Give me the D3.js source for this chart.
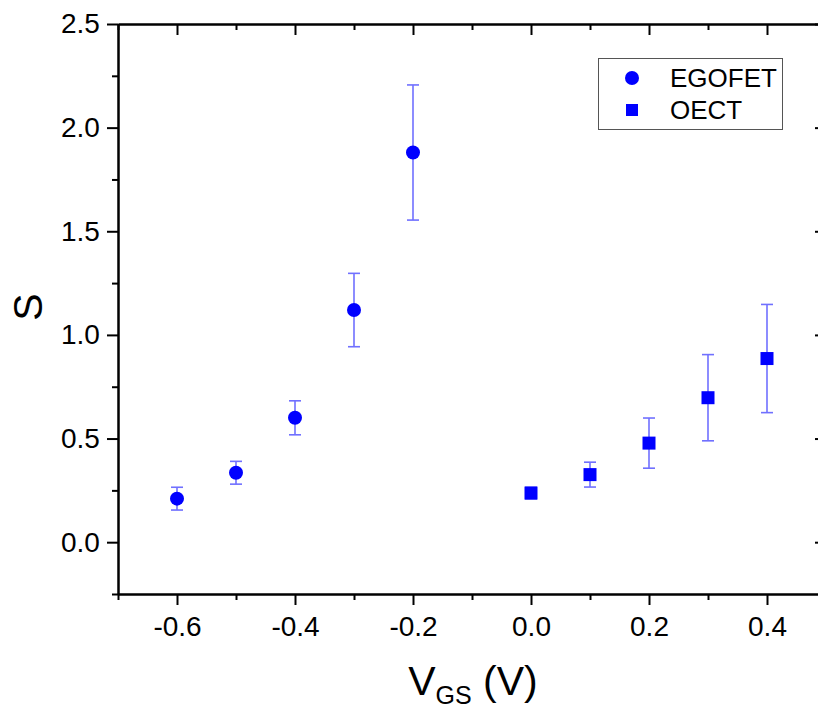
<!DOCTYPE html>
<html><head><meta charset="utf-8">
<script src="https://cdn.jsdelivr.net/npm/d3@7"></script>
<style>body{margin:0;background:#fff}svg{display:block}text{font-family:"Liberation Sans",Arial,sans-serif}</style>
</head><body><svg id="c" width="818" height="713"></svg>
<script>
const egofetX = [-0.6, -0.5, -0.4, -0.3, -0.2];
const egofetY = [0.21, 0.335, 0.60, 1.12, 1.88];
const egofetErr = [0.055, 0.055, 0.082, 0.177, 0.326];
const oectX = [0.0, 0.1, 0.2, 0.3, 0.4];
const oectY = [0.237, 0.326, 0.478, 0.697, 0.886];
const oectErr = [0.028, 0.06, 0.121, 0.208, 0.261];
const xMajorTicks = [-0.6, -0.4, -0.2, 0.0, 0.2, 0.4];
const xMinorTicks = [-0.7, -0.5, -0.3, -0.1, 0.1, 0.3, 0.5];
const yMajorTicks = [0.0, 0.5, 1.0, 1.5, 2.0, 2.5];
const yMinorTicks = [-0.25, 0.25, 0.75, 1.25, 1.75, 2.25];
const seriesNames = ["EGOFET", "OECT"];

const svg = d3.select("#c");
const L = 118, R = 826, T = 24, B = 594;
const x = d3.scaleLinear().domain([-0.7, 0.5]).range([L, R]);
const y = d3.scaleLinear().domain([-0.25, 2.5]).range([B, T]);
const blue = "#0000ff", errC = "#7070ff";

function axis(gen, tr, ticks, size, labels) {
  const g = svg.append("g").attr("transform", tr)
    .call(gen.tickValues(ticks).tickSize(size).tickSizeOuter(0)
      .tickFormat(labels ? d3.format(".1f") : ""));
  g.select(".domain").attr("stroke", "#000").attr("stroke-width", 2);
  g.selectAll(".tick line").attr("stroke", "#000").attr("stroke-width", 2);
  g.selectAll("text").attr("font-size", 28).attr("fill", "#000")
    .attr("font-family", "Liberation Sans, Arial, sans-serif");
  return g;
}
// bottom
const gb = axis(d3.axisBottom(x), `translate(0,${B})`, xMajorTicks, 11, true);
gb.selectAll("text").attr("dy", "1.0em").text(d => d3.format(".1f")(d).replace("−", "-"));
axis(d3.axisBottom(x), `translate(0,${B})`, xMinorTicks, 6, false);
// top (inward)
axis(d3.axisBottom(x), `translate(0,${T})`, xMajorTicks, 11, false);
axis(d3.axisBottom(x), `translate(0,${T})`, xMinorTicks, 6, false);
// left
const gl = axis(d3.axisLeft(y), `translate(${L},0)`, yMajorTicks, 11, true);
gl.selectAll("text").attr("dx", "-0.15em");
axis(d3.axisLeft(y), `translate(${L},0)`, yMinorTicks, 6, false);
// right (inward)
axis(d3.axisLeft(y), `translate(${R},0)`, yMajorTicks, 11, false);
axis(d3.axisLeft(y), `translate(${R},0)`, yMinorTicks, 6, false);

function errBars(xs, ys, es) {
  const g = svg.append("g").attr("stroke", errC).attr("stroke-width", 1.6);
  xs.forEach((xv, i) => {
    const cx = x(xv), y1 = y(ys[i] + es[i]), y2 = y(ys[i] - es[i]);
    g.append("line").attr("x1", cx).attr("x2", cx).attr("y1", y1).attr("y2", y2);
    g.append("line").attr("x1", cx - 6).attr("x2", cx + 6).attr("y1", y1).attr("y2", y1);
    g.append("line").attr("x1", cx - 6).attr("x2", cx + 6).attr("y1", y2).attr("y2", y2);
  });
}
errBars(egofetX, egofetY, egofetErr);
errBars(oectX, oectY, oectErr);

svg.append("g").selectAll("circle").data(egofetX).join("circle")
  .attr("cx", d => x(d)).attr("cy", (d, i) => y(egofetY[i])).attr("r", 7).attr("fill", blue);
svg.append("g").selectAll("rect").data(oectX).join("rect")
  .attr("x", d => x(d) - 6.5).attr("y", (d, i) => y(oectY[i]) - 6.5)
  .attr("width", 13).attr("height", 13).attr("fill", blue);

// legend
const lg = svg.append("g");
lg.append("rect").attr("x", 598.5).attr("y", 58.5).attr("width", 184).attr("height", 71)
  .attr("fill", "#fff").attr("stroke", "#555").attr("stroke-width", 1);
lg.append("circle").attr("cx", 632).attr("cy", 78).attr("r", 7).attr("fill", blue);
lg.append("rect").attr("x", 626).attr("y", 104).attr("width", 12).attr("height", 12).attr("fill", blue);
lg.selectAll("text.lt").data(seriesNames).join("text").attr("class", "lt")
  .attr("x", 670).attr("y", (d, i) => 87 + i * 32).attr("font-size", 26).attr("fill", "#000").text(d => d);

// axis titles
svg.append("text").attr("transform", "translate(42,307) rotate(-90)").attr("text-anchor", "middle")
  .attr("font-size", 41).attr("fill", "#000").text("S");
const xt = svg.append("text").attr("x", 473).attr("y", 695).attr("text-anchor", "middle")
  .attr("font-size", 41).attr("fill", "#000");
xt.append("tspan").text("V");
xt.append("tspan").attr("font-size", 25).attr("dy", 9).text("GS");
xt.append("tspan").attr("dy", -9).text(" (V)");
</script></body></html>
